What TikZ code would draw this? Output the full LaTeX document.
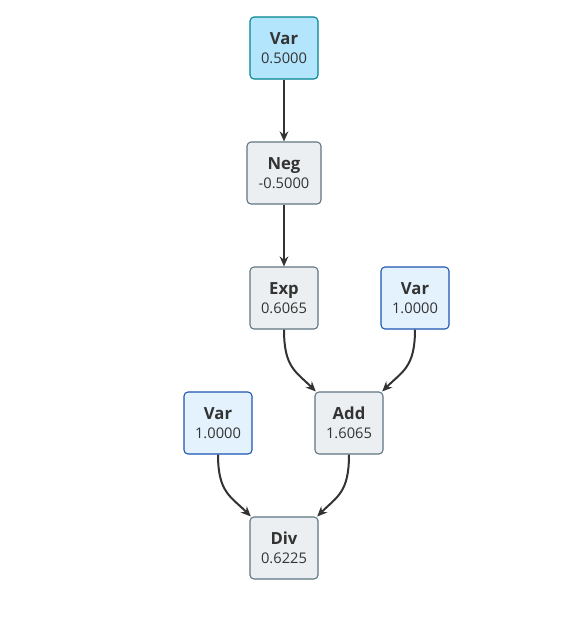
\documentclass[tikz,border=0pt]{standalone}
\usepackage{fontspec}
\setmainfont{Open Sans}
\usetikzlibrary{arrows.meta}

\definecolor{varfill}{HTML}{B3E5FC}
\definecolor{varline}{HTML}{00838F}
\definecolor{leaffill}{HTML}{E3F2FD}
\definecolor{leafline}{HTML}{1E55B3}
\definecolor{opfill}{HTML}{ECEFF1}
\definecolor{opline}{HTML}{5F7582}
\definecolor{edgecol}{HTML}{333333}

\tikzset{every picture/.style={line width=0.75pt}}
\tikzset{
  opbox/.style={draw=opline, fill=opfill, rounded corners=3pt, line width=0.8pt,
    minimum width=51pt, minimum height=46.5pt, align=center, inner xsep=5pt,
    text=edgecol, font=\fontsize{11}{14.5}\selectfont},
  rootbox/.style={opbox, draw=varline, fill=varfill},
  leafbox/.style={opbox, draw=leafline, fill=leaffill},
  flow/.style={draw=edgecol, line width=1.5pt, -{Stealth[length=7.5pt,width=6.5pt]}}
}
\newcommand{\nodetxt}[2]{{\fontsize{12.5}{15}\selectfont\bfseries #1}\\#2}

\begin{document}
\begin{tikzpicture}[x=0.75pt,y=0.75pt,yscale=-1,xscale=1]
	\useasboundingbox (0,0) rectangle (585,633);
	\fill[white] (0,0) rectangle (585,633);

	% Nodes
	\node[rootbox] (var) at (284,48) {\nodetxt{Var}{0.5000}};
	\node[opbox, minimum width=55.5pt] (neg) at (284,173) {\nodetxt{Neg}{-0.5000}};
	\node[opbox] (exp) at (284,298) {\nodetxt{Exp}{0.6065}};
	\node[leafbox] (varb) at (415,298) {\nodetxt{Var}{1.0000}};
	\node[opbox] (add) at (349,423) {\nodetxt{Add}{1.6065}};
	\node[leafbox] (vara) at (218,423) {\nodetxt{Var}{1.0000}};
	\node[opbox] (div) at (284,548) {\nodetxt{Div}{0.6225}};

	% Edges
	\draw[flow] (var) -- (neg);
	\draw[flow] (neg) -- (exp);
	\draw[flow] (exp.south) .. controls +(0,38) and +(-20,-20) .. ([xshift=1pt]add.north west);
	\draw[flow] (varb.south) .. controls +(0,38) and +(20,-20) .. ([xshift=-1pt]add.north east);
	\draw[flow] (vara.south) .. controls +(0,38) and +(-20,-20) .. ([xshift=1pt]div.north west);
	\draw[flow] (add.south) .. controls +(0,38) and +(20,-20) .. ([xshift=-1pt]div.north east);

\end{tikzpicture}
\end{document}
